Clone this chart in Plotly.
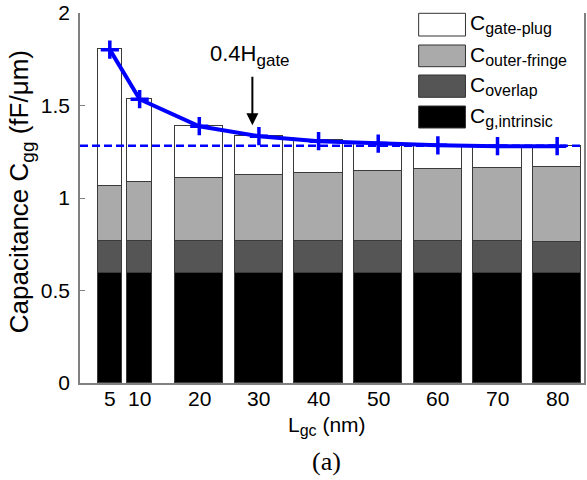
import plotly.graph_objects as go

# ---------------- data ----------------
lgc_nm = [5, 10, 20, 30, 40, 50, 60, 70, 80]
tick_labels = ["5", "10", "20", "30", "40", "50", "60", "70", "80"]
c_intrinsic = [0.597, 0.597, 0.597, 0.597, 0.597, 0.597, 0.597, 0.592, 0.597]
c_overlap = [0.171, 0.171, 0.171, 0.171, 0.171, 0.171, 0.171, 0.176, 0.165]
c_outer_fringe = [0.296, 0.321, 0.339, 0.354, 0.366, 0.377, 0.390, 0.395, 0.406]
c_gate_plug = [0.742, 0.447, 0.283, 0.212, 0.177, 0.151, 0.128, 0.119, 0.112]
cgg_total = [1.802, 1.534, 1.388, 1.334, 1.307, 1.294, 1.285, 1.280, 1.280]
cgg_long_channel = 1.282
arrow_lgc = 28.9
arrow_cgg = 1.393

series_subs = ["g,intrinsic", "overlap", "outer-fringe", "gate-plug"]
series_values = [c_intrinsic, c_overlap, c_outer_fringe, c_gate_plug]
series_colors = ["#000000", "#555555", "#aaaaaa", "#ffffff"]

# ---------------- layout geometry ----------------
W, H = 587, 480
ML, MR, MT, MB = 80, 1, 13, 97
PW, PH = W - ML - MR, H - MT - MB


def px(x):
    return (x - ML) / PW


def py(y):
    return (H - MB - y) / PH


def sub(main, s, size=16):
    return f'{main}<sub><span style="font-size:{size}px">{s}</span></sub>'


bar_widths = [4.1 if v < 15 else 8.1 for v in lgc_nm]
FONT = "Liberation Sans, Arial, sans-serif"

fig = go.Figure()
for s, vals, col in zip(series_subs, series_values, series_colors):
    fig.add_trace(go.Bar(
        x=lgc_nm, y=vals, width=bar_widths, name="C " + s,
        marker=dict(color=col, line=dict(color="#3a3a3a", width=1)),
        showlegend=False,
    ))

fig.add_hline(y=cgg_long_channel,
              line=dict(color="#0000ff", width=2.5, dash="8px,4px"))

fig.add_trace(go.Scatter(
    x=lgc_nm, y=cgg_total, mode="lines+markers",
    line=dict(color="#0000ff", width=4),
    marker=dict(symbol="cross-thin", size=13,
                line=dict(color="#0000ff", width=3.5)),
    showlegend=False,
))

annotations = []
# x tick labels (placed closer to the axis than plotly's default)
for v, t in zip(lgc_nm, tick_labels):
    annotations.append(dict(
        text=t, x=v, xref="x", y=py(398), yref="paper", showarrow=False,
        xanchor="center", yanchor="middle", font=dict(size=21, color="#000")))
# y-axis title
annotations.append(dict(
    text=sub("Capacitance C", "gg", 19) + " (fF/μm)", x=px(20), y=py(192),
    xref="paper", yref="paper", showarrow=False, textangle=-90,
    xanchor="center", yanchor="middle", font=dict(size=26, color="#000")))
# x-axis title
annotations.append(dict(
    text=sub("L", "gc", 16) + " (nm)", x=px(328), y=py(411),
    xref="paper", yref="paper", showarrow=False,
    xanchor="center", yanchor="top", font=dict(size=21, color="#000")))
# (a)
annotations.append(dict(
    text="(a)", x=px(327), y=py(461),
    xref="paper", yref="paper", showarrow=False,
    xanchor="center", yanchor="middle",
    font=dict(size=26, color="#000", family="Liberation Serif, Times New Roman, serif")))
# 0.4H_gate label
annotations.append(dict(
    text=sub("0.4H", "gate", 17), x=px(209), y=py(39),
    xref="paper", yref="paper", showarrow=False,
    xanchor="left", yanchor="top", font=dict(size=22, color="#000")))
# arrow
annotations.append(dict(
    text="", x=arrow_lgc, y=arrow_cgg, xref="x", yref="y",
    showarrow=True, ax=0, ay=-50, arrowhead=2, arrowsize=1.2,
    arrowwidth=2, arrowcolor="#000"))

# custom legend
shapes = []
shapes.append(dict(type="rect", xref="paper", yref="paper",
                   x0=px(410), x1=px(577), y0=py(137), y1=py(7),
                   line=dict(color="#333", width=1), fillcolor="#ffffff",
                   layer="above"))
rows = [(13.3, 36), (45, 66.7), (75, 97.3), (106, 128)]
legend_order = [3, 2, 1, 0]
for (top, bot), idx in zip(rows, legend_order):
    shapes.append(dict(type="rect", xref="paper", yref="paper",
                       x0=px(420), x1=px(467), y0=py(bot), y1=py(top),
                       line=dict(color="#333", width=1),
                       fillcolor=series_colors[idx], layer="above"))
    annotations.append(dict(
        text=sub("C", series_subs[idx], 16), x=px(470), y=py(top - 4),
        xref="paper", yref="paper", showarrow=False,
        xanchor="left", yanchor="top", font=dict(size=21, color="#000")))

fig.update_layout(
    width=W, height=H, margin=dict(l=ML, r=MR, t=MT, b=MB),
    barmode="stack", bargap=0,
    paper_bgcolor="white", plot_bgcolor="white",
    font=dict(family=FONT, size=21, color="#000"),
    shapes=shapes, annotations=annotations,
    xaxis=dict(range=[0, 84.5], tickmode="array", tickvals=lgc_nm,
               showticklabels=False, ticks="", showgrid=False, zeroline=False,
               showline=True, linecolor="#808080", linewidth=1.5),
    yaxis=dict(range=[0, 2], tickvals=[0, 0.5, 1, 1.5, 2],
               ticktext=["0", "0.5", "1", "1.5", "2"],
               ticks="inside", ticklen=5, tickcolor="#808080",
               showgrid=False, zeroline=False, showline=True, mirror=True,
               linecolor="#808080", linewidth=1.5, ticklabelstandoff=4,
               tickfont=dict(size=21)),
)

fig.write_html("out.html")
